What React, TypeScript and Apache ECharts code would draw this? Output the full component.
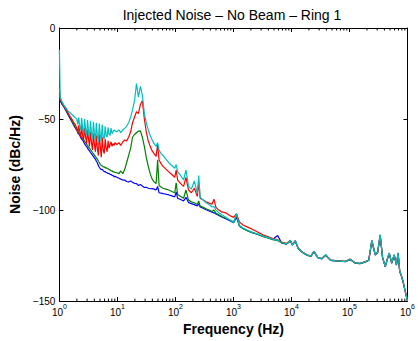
import React, { useEffect, useRef } from 'react';
import * as echarts from 'echarts';

const titleText = 'Injected Noise \u2013 No Beam \u2013 Ring 1';
const xName = 'Frequency (Hz)';
const yName = 'Noise (dBc/Hz)';

const freqHz = [
  1, 1.03, 1.11, 1.2, 1.3, 1.4, 1.52, 1.64, 1.77, 1.91,
  1.99, 2.07, 2.15, 2.24, 2.33, 2.42, 2.51, 2.61, 2.72, 2.83,
  2.94, 3.05, 3.18, 3.3, 3.43, 3.57, 3.71, 3.86, 4.01, 4.17,
  4.33, 4.5, 4.69, 4.87, 5.06, 5.26, 5.47, 5.69, 5.92, 6.15,
  6.39, 6.64, 6.91, 7.18, 7.47, 7.76, 8.07, 8.38, 8.73, 9.06,
  9.79, 10.6, 11.4, 12.4, 13.4, 14.4, 15.6, 16.9, 18.2, 19.7,
  21.3, 23, 24.9, 26.9, 29.1, 31.4, 34, 36.7, 39.7, 42.9,
  46.4, 49.3, 52.2, 56.5, 61, 68.5, 77, 86.6, 97.3, 103,
  109, 123, 138, 152, 168, 188, 212, 238, 252, 267,
  301, 338, 380, 427, 461, 499, 560, 630, 736, 860,
  1005, 1130, 1268, 1482, 1800, 2186, 2655, 3223, 3916, 4757,
  5780, 6750, 8200, 9570, 10350, 11630, 13080, 15290, 18570, 21680,
  24370, 28450, 33260, 38850, 47200, 57300, 69600, 84600, 102800, 124700,
  151700, 184000, 215000, 243000, 278000, 306000, 338000, 372000, 414000, 447000,
  484000, 534000, 589000, 645000, 689000, 734000, 785000, 836000, 914000, 1000000,
];

const blueDb = [
  -37, -40, -42, -43.5, -45.5, -47.5, -49.5, -51.5, -53.5, -55.3,
  -56.2, -57, -58.2, -59, -60.2, -61, -61.6, -62.5, -63.7, -64.5,
  -65.1, -66, -66.9, -67.5, -68.4, -69, -69.9, -70.5, -71.4, -72,
  -73.2, -74, -75.6, -76.5, -77.3, -77.8, -77.6, -78.3, -78.9, -78.8,
  -79.4, -79.5, -80, -79.8, -80.4, -80.5, -80.9, -81, -81.6, -81.5,
  -82, -82.5, -83, -83.5, -83.5, -84.3, -84.5, -84, -84.8, -85.3,
  -85.5, -86.5, -86, -86.8, -87.6, -87.5, -88, -88.3, -88.2, -88.5,
  -89, -87, -90.5, -90.7, -91, -91.3, -91.7, -92.2, -92.8, -90,
  -93.5, -94.2, -95, -93, -95.8, -96.5, -97, -97.8, -96.5, -98.3,
  -99, -99.8, -100.5, -101.2, -101.5, -102.2, -103, -103.8, -104.8, -105.8,
  -107, -104, -108.7, -110.2, -111.5, -112.5, -113.4, -114.5, -115.2, -116.2,
  -114, -118, -118.7, -117, -119.2, -117, -121.2, -123.2, -124.8, -125.4,
  -122.8, -126.1, -126.9, -124.8, -127.6, -127.9, -128.1, -128.4, -127.2, -129.1,
  -129.4, -128.6, -127.7, -117, -124.7, -123.3, -114, -126.2, -131.2, -127.3,
  -123.8, -129.2, -124.8, -130.2, -123.8, -133.7, -136.2, -139.2, -144.7, -150,
];

const greenDb = [
  -36, -39.5, -41.5, -43, -45, -47, -49, -51, -53, -55,
  -55.7, -56.5, -57.6, -58.3, -59.4, -60, -60.9, -61.5, -62.4, -63,
  -63.9, -64.5, -65.4, -66, -66.9, -67.5, -68.4, -69, -69.9, -70.5,
  -71.4, -72, -73.2, -74, -74.9, -75.5, -75.7, -76.3, -76.2, -76.8,
  -76.7, -77.2, -77.3, -77.8, -78, -78.5, -78.4, -79, -79, -79.3,
  -79.5, -80, -78.5, -80, -77.5, -74, -70, -66, -60, -58.5,
  -57.5, -56.6, -56.5, -60, -65, -71, -76, -80, -83, -84.5,
  -85.5, -72.5, -86.5, -87.3, -88, -88.5, -89, -89.8, -90.5, -85,
  -91.5, -92.5, -93.5, -89, -94.5, -95.5, -96, -97, -95, -97.8,
  -98.5, -99.3, -100, -100.8, -100, -101.8, -102.6, -103.5, -104.5, -105.5,
  -106.5, -103, -108.8, -110.3, -111.6, -112.6, -113.4, -114.5, -115.3, -116.2,
  -116.8, -118, -118.6, -117, -119.1, -117, -121.1, -123.1, -124.8, -125.4,
  -122.7, -126.1, -126.7, -124.7, -127.6, -127.9, -128, -128.2, -127.1, -129.1,
  -129.4, -128.6, -127.6, -116.8, -124.6, -123.2, -113.8, -126.1, -131.1, -127.2,
  -123.7, -129.1, -124.7, -130.1, -123.7, -133.6, -136.1, -139.1, -144.6, -150,
];

const redDb = [
  -33, -39, -41, -43, -44.5, -46.5, -48.5, -50, -52, -53.5,
  -55, -58, -53.5, -57, -60, -54, -59, -62, -55, -60,
  -63.5, -56, -61, -65, -57, -63, -67, -58, -64, -68,
  -59, -66, -70, -58.5, -65, -71, -60, -67, -69, -61,
  -66, -68, -62, -66, -64, -62.5, -65, -63.5, -64.5, -63,
  -64, -63, -64.5, -62.5, -61.5, -62, -60, -57, -52, -49,
  -46, -47, -42, -40, -50, -57, -62, -65, -67.5, -69,
  -70.5, -64, -72.5, -74.5, -76, -77.5, -79, -80.5, -82, -78,
  -83.5, -85.5, -87, -82, -89, -90.5, -88, -92.5, -85, -93.5,
  -94.5, -95.5, -96.2, -96.8, -94, -98.5, -100, -101, -101.5, -103,
  -104, -102, -106.5, -108.3, -109.5, -110.8, -112.2, -113.6, -114.6, -115.7,
  -116.3, -117.6, -118.3, -116.6, -118.9, -116.8, -120.9, -122.9, -124.6, -125.2,
  -122.6, -125.9, -126.6, -124.6, -127.4, -127.7, -127.9, -128.1, -126.9, -128.9,
  -129.2, -128.4, -127.4, -116.6, -124.4, -123.1, -113.7, -126, -131, -127.1,
  -123.6, -129, -124.6, -130, -123.6, -133.5, -136, -139, -144.5, -150,
];

const cyanDb = [
  -12, -38, -40.5, -42.5, -44, -45.5, -46.5, -47.5, -48.5, -49.5,
  -50, -53, -49, -54, -56, -49.5, -55, -58, -50, -56,
  -59, -50.5, -57, -60, -51, -58, -61, -51.5, -58, -62,
  -52, -59, -62.5, -52.5, -59, -62, -53, -60, -61, -54,
  -59, -60, -54.5, -58.5, -59, -55, -58, -57, -56, -56.5,
  -57, -56, -57.5, -56, -55, -54, -52, -49, -45, -40,
  -30.5, -38, -32, -37, -47, -52, -56, -59, -61.5, -63.5,
  -65, -63, -67, -69, -70, -72, -74, -75.5, -77, -75,
  -79, -81, -83.5, -78, -87, -88.5, -84, -91, -81, -93,
  -94.5, -96, -97, -98.3, -98, -100, -101.5, -102.5, -104, -105.5,
  -107, -102, -108.5, -110, -111.3, -112.3, -113.2, -114.3, -115, -116,
  -116.5, -117.8, -118.5, -116.7, -119, -116.7, -121, -123, -124.7, -125.3,
  -122.5, -126, -126.8, -124.5, -127.5, -127.8, -128, -128.3, -127, -129,
  -129.3, -128.5, -127.5, -116.5, -124.5, -123, -113.5, -126, -131, -127,
  -123.5, -129, -124.5, -130, -123.5, -133.5, -136, -139, -144.5, -150,
];

const FONT = '"Liberation Sans", Arial, Helvetica, sans-serif';

export default function App() {
  const ref = useRef<HTMLDivElement>(null);
  useEffect(() => {
    const chart = echarts.init(ref.current!, null, { renderer: 'svg' });
    const pairs = (ys: number[]) => freqHz.map((f, i) => [f, ys[i]]);
    const minorTicks: number[][] = [];
    for (let d = 0; d < 6; d++) {
      for (let m = 2; m <= 9; m++) minorTicks.push([m * Math.pow(10, d), -150]);
    }
    const axisLine = { show: true, onZero: false, lineStyle: { color: '#000', width: 1 } };
    const axisTick = { show: true, inside: true, length: 4, lineStyle: { color: '#000', width: 1 } };
    const lineSeries = (name: string, ys: number[], color: string) => ({
      name,
      type: 'line',
      data: pairs(ys),
      showSymbol: false,
      symbol: 'none',
      lineStyle: { color, width: 1.2 },
      itemStyle: { color },
      z: 3,
    });
    chart.setOption({
      animation: false,
      backgroundColor: '#fff',
      grid: { left: 54, top: 28, width: 356, height: 279, containLabel: false },
      graphic: [
        {
          type: 'text',
          x: 232,
          y: 8,
          style: {
            text: titleText,
            font: `14px ${FONT}`,
            fill: '#000',
            textAlign: 'center',
            textVerticalAlign: 'top',
            align: 'center',
            verticalAlign: 'top',
          },
        },
      ],
      xAxis: [
        {
          type: 'log',
          logBase: 10,
          min: 1,
          max: 1000000,
          position: 'bottom',
          axisLine,
          axisTick,
          splitLine: { show: false },
          axisLabel: {
            margin: 2,
            color: '#000',
            formatter: (v: number) => `{b|10}{s|${Math.round(Math.log10(v))}}`,
            rich: {
              b: { fontSize: 10, fontFamily: FONT, color: '#000', lineHeight: 14, verticalAlign: 'bottom' },
              s: { fontSize: 7, fontFamily: FONT, color: '#000', lineHeight: 8, verticalAlign: 'top' },
            },
          },
          name: xName,
          nameLocation: 'middle',
          nameGap: 17,
          nameTextStyle: { fontFamily: FONT, fontSize: 14, fontWeight: 'bold', color: '#000' },
        },
        {
          type: 'log',
          logBase: 10,
          min: 1,
          max: 1000000,
          position: 'top',
          axisLine,
          axisTick,
          splitLine: { show: false },
          axisLabel: { show: false },
        },
      ],
      yAxis: [
        {
          type: 'value',
          min: -150,
          max: 0,
          interval: 50,
          position: 'left',
          axisLine,
          axisTick,
          splitLine: { show: false },
          axisLabel: {
            margin: 4,
            color: '#000',
            fontSize: 10,
            fontFamily: FONT,
            formatter: (v: number) => (v < 0 ? '\u2212' + Math.abs(v) : String(v)),
          },
          name: yName,
          nameLocation: 'middle',
          nameGap: 29,
          nameTextStyle: { fontFamily: FONT, fontSize: 14, fontWeight: 'bold', color: '#000' },
        },
        {
          type: 'value',
          min: -150,
          max: 0,
          interval: 50,
          position: 'right',
          axisLine,
          axisTick,
          splitLine: { show: false },
          axisLabel: { show: false },
        },
      ],
      series: [
        lineSeries('blue', blueDb, '#0000ff'),
        lineSeries('green', greenDb, '#008000'),
        lineSeries('red', redDb, '#ff0000'),
        lineSeries('cyan', cyanDb, '#00bfbf'),
        {
          type: 'custom',
          xAxisIndex: 0,
          yAxisIndex: 0,
          silent: true,
          clip: false,
          z: 5,
          data: minorTicks,
          renderItem: (params: any, api: any) => {
            const f = api.value(0);
            const b = api.coord([f, -150]);
            const t = api.coord([f, 0]);
            return {
              type: 'group',
              children: [
                { type: 'line', shape: { x1: b[0], y1: b[1], x2: b[0], y2: b[1] - 2.5 }, style: { stroke: '#000', lineWidth: 1 } },
                { type: 'line', shape: { x1: t[0], y1: t[1], x2: t[0], y2: t[1] + 2.5 }, style: { stroke: '#000', lineWidth: 1 } },
              ],
            };
          },
        },
      ],
    });
    return () => chart.dispose();
  }, []);
  return (
    <div
      ref={ref}
      style={{ position: 'fixed', left: 0, top: 0, width: 418, height: 341, background: '#fff' }}
    />
  );
}
